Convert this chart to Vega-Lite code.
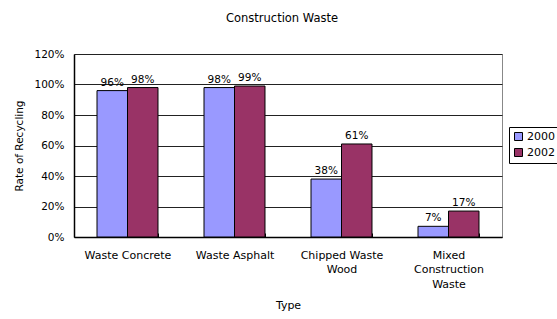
{
  "$schema": "https://vega.github.io/schema/vega-lite/v6.json",
  "width": 428,
  "height": 183,
  "autosize": {"type": "none"},
  "padding": {"left": 74, "top": 54, "right": 55, "bottom": 82},
  "background": "white",
  "title": {"text": "Construction Waste", "fontSize": 11.5, "font": "DejaVu Sans", "fontWeight": "normal", "color": "black", "offset": 25, "dx": -6, "anchor": "middle"},
  "data": {"values": [
    {"Type": "Waste Concrete", "Year": "2000", "Rate": 0.96},
    {"Type": "Waste Concrete", "Year": "2002", "Rate": 0.98},
    {"Type": "Waste Asphalt", "Year": "2000", "Rate": 0.98},
    {"Type": "Waste Asphalt", "Year": "2002", "Rate": 0.99},
    {"Type": "Chipped Waste Wood", "Year": "2000", "Rate": 0.38},
    {"Type": "Chipped Waste Wood", "Year": "2002", "Rate": 0.61},
    {"Type": "Mixed Construction Waste", "Year": "2000", "Rate": 0.07},
    {"Type": "Mixed Construction Waste", "Year": "2002", "Rate": 0.17}
  ]},
  "encoding": {
    "x": {"field": "Type", "type": "nominal", "sort": null,
      "scale": {"paddingInner": 0.43, "paddingOuter": 0.215},
      "axis": {"title": "Type", "labelAngle": 0, "tickBand": "extent", "tickSize": -4, "tickColor": "black", "domainColor": "black", "domainWidth": 1.5,
        "labelExpr": "datum.value == 'Chipped Waste Wood' ? ['Chipped Waste','Wood'] : datum.value == 'Mixed Construction Waste' ? ['Mixed','Construction','Waste'] : datum.value",
        "labelPadding": 16, "labelLineHeight": 14.5, "labelFontSize": 11, "labelFont": "DejaVu Sans", "labelColor": "black",
        "titleFont": "DejaVu Sans", "titleFontSize": 11, "titleFontWeight": "normal", "titlePadding": 10, "titleColor": "black"}},
    "xOffset": {"field": "Year", "type": "nominal"},
    "y": {"field": "Rate", "type": "quantitative",
      "scale": {"domain": [0, 1.2]},
      "axis": {"title": "Rate of Recycling", "format": "%", "values": [0, 0.2, 0.4, 0.6, 0.8, 1.0, 1.2], "ticks": false, "labelPadding": 10,
        "grid": true, "gridColor": "#222", "gridWidth": 1, "domainColor": "black", "domainWidth": 1.5,
        "labelFontSize": 10.5, "labelFont": "DejaVu Sans", "labelColor": "black",
        "titleFont": "DejaVu Sans", "titleFontSize": 10.5, "titleFontWeight": "normal", "titlePadding": 9, "titleColor": "black"}}
  },
  "layer": [
    {"mark": {"type": "bar", "stroke": "black", "strokeWidth": 1},
     "encoding": {"color": {"field": "Year", "type": "nominal",
       "scale": {"domain": ["2000", "2002"], "range": ["#9999FF", "#993366"]},
       "legend": {"title": null, "orient": "none", "legendX": 435, "legendY": 73, "strokeColor": "black", "padding": 4,
         "symbolType": "square", "symbolSize": 64, "symbolStrokeColor": "black", "symbolStrokeWidth": 1, "labelFontSize": 11, "labelFont": "DejaVu Sans", "labelColor": "black", "rowPadding": 3, "labelOffset": 3}}}},
    {"mark": {"type": "text", "dy": -8, "fontSize": 10.5, "font": "DejaVu Sans", "color": "black"},
     "encoding": {"text": {"field": "Rate", "type": "quantitative", "format": ".0%"}}}
  ],
  "config": {"view": {"stroke": "#888", "strokeWidth": 1}}
}
